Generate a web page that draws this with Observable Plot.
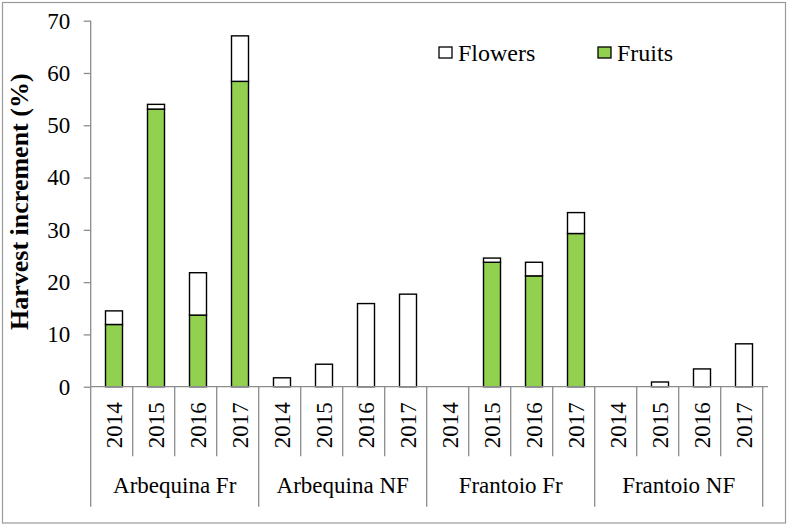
<!DOCTYPE html>
<html>
<head>
<meta charset="utf-8">
<script src="https://cdn.jsdelivr.net/npm/d3@7"></script>
<script src="https://cdn.jsdelivr.net/npm/@observablehq/plot@0.6"></script>
<style>
  html, body { margin: 0; padding: 0; background: #fff; }
  #chart svg { display: block; }
  #chart svg, #chart svg text { font-family: "Liberation Serif", Tinos, "Times New Roman", "DejaVu Serif", serif !important; }
</style>
</head>
<body>
<div id="chart"></div>
<script>
// ---- data ----
const groups = ["Arbequina Fr", "Arbequina NF", "Frantoio Fr", "Frantoio NF"];
const years = ["2014", "2015", "2016", "2017"];
const seriesNames = ["Fruits", "Flowers"];
// fruits segment (bottom) per group, per year
const fruitsArbequinaFr = [11.9, 53.1, 13.7, 58.4];
const fruitsArbequinaNF = [0, 0, 0, 0];
const fruitsFrantoioFr = [0, 23.8, 21.2, 29.3];
const fruitsFrantoioNF = [0, 0, 0, 0];
// flowers segment (stacked on top) per group, per year
const flowersArbequinaFr = [2.6, 0.9, 8.1, 8.7];
const flowersArbequinaNF = [1.7, 4.3, 15.9, 17.7];
const flowersFrantoioFr = [0, 0.8, 2.6, 4.0];
const flowersFrantoioNF = [0, 0.9, 3.4, 8.2];
const yTicks = [0, 10, 20, 30, 40, 50, 60, 70];
const yTitle = "Harvest increment (%)";

const fruits = [fruitsArbequinaFr, fruitsArbequinaNF, fruitsFrantoioFr, fruitsFrantoioNF];
const flowers = [flowersArbequinaFr, flowersArbequinaNF, flowersFrantoioFr, flowersFrantoioNF];

const keys = [];
groups.forEach(g => years.forEach(y => keys.push(g + "|" + y)));

const rows = [];
[["Fruits", fruits], ["Flowers", flowers]].forEach(([s, arr]) => {
  groups.forEach((g, gi) => years.forEach((y, yi) => {
    const v = arr[gi][yi];
    if (v > 0) rows.push({key: g + "|" + y, series: s, value: v});
  }));
});

const FONT = "Liberation Serif, Tinos, Times New Roman, DejaVu Serif, serif";
const AXIS = "#8c8c8c";

function decorations(index, scales, values, dimensions) {
  const x = scales.x, y = scales.y;
  const step = x(keys[1]) - x(keys[0]);
  const x0 = dimensions.marginLeft;
  const x1 = dimensions.width - dimensions.marginRight;
  const yb = y(0), yt = y(70);
  const g = d3.create("svg:g").attr("font-family", FONT);

  // outer border
  g.append("rect").attr("x", 2.5).attr("y", 2.5)
    .attr("width", dimensions.width - 4).attr("height", dimensions.height - 3.5)
    .attr("fill", "none").attr("stroke", "#9a9a9a").attr("stroke-width", 1.2);

  // y axis line and x axis line
  g.append("line").attr("x1", x0).attr("x2", x0).attr("y1", yt).attr("y2", yb)
    .attr("stroke", AXIS).attr("stroke-width", 1.3);
  g.append("line").attr("x1", x0).attr("x2", x1).attr("y1", yb).attr("y2", yb)
    .attr("stroke", AXIS).attr("stroke-width", 1.3);

  // category separators
  for (let k = 0; k <= keys.length; k++) {
    const xe = x0 + k * step;
    const isGroup = k % years.length === 0;
    g.append("line").attr("x1", xe).attr("x2", xe)
      .attr("y1", yb).attr("y2", yb + (isGroup ? 120 : 69.5))
      .attr("stroke", AXIS).attr("stroke-width", 1.3);
  }

  // year labels (rotated)
  keys.forEach(k => {
    const cx = x(k) + x.bandwidth() / 2;
    const yr = k.split("|")[1];
    g.append("text")
      .attr("transform", `translate(${cx},${yb + 38.5}) rotate(-90)`)
      .attr("text-anchor", "middle").attr("dy", "0.34em")
      .attr("font-size", 23).attr("fill", "#000").text(yr);
  });

  // group labels
  groups.forEach((gr, gi) => {
    const cx = x0 + (gi * years.length + years.length / 2) * step;
    g.append("text").attr("x", cx).attr("y", yb + 106.5)
      .attr("text-anchor", "middle").attr("font-size", 23).attr("fill", "#000").text(gr);
  });

  // y title
  g.append("text")
    .attr("transform", `translate(19,${(yt + yb) / 2 - 2}) rotate(-90)`)
    .attr("text-anchor", "middle").attr("dy", "0.35em")
    .attr("font-size", 26).attr("font-weight", "bold").attr("fill", "#000").text(yTitle);

  // legend
  const leg = [["Flowers", "#ffffff", 439], ["Fruits", "#92D050", 598]];
  leg.forEach(([name, col, lx]) => {
    g.append("rect").attr("x", lx).attr("y", 47).attr("width", 13).attr("height", 11)
      .attr("fill", col).attr("stroke", "#000").attr("stroke-width", 1.3);
    g.append("text").attr("x", lx + 19).attr("y", 61).attr("text-anchor", "start")
      .attr("font-size", 24).attr("fill", "#000").text(name);
  });
  return g.node();
}

const chart = Plot.plot({
  width: 787,
  height: 524,
  marginLeft: 90.7,
  marginRight: 19,
  marginTop: 20.7,
  marginBottom: 137.3,
  style: {fontFamily: FONT, color: "#000", background: "#fff", overflow: "visible"},
  x: {domain: keys, padding: 0, axis: null},
  y: {domain: [0, 70], axis: null},
  color: {domain: seriesNames, range: ["#92D050", "#ffffff"]},
  marks: [
    Plot.barY(rows, Plot.stackY({
      x: "key", y: "value", fill: "series", z: "series",
      stroke: "#000", strokeWidth: 1.4,
      insetLeft: 12.5, insetRight: 12.5
    })),
    Plot.axisY({
      ticks: yTicks, tickSize: 7, tickPadding: 14,
      stroke: AXIS, strokeWidth: 1.3, fontSize: 23, fill: "#000",
      label: null, tickFormat: d => String(d)
    }),
    decorations
  ]
});
document.getElementById("chart").appendChild(chart);
</script>
</body>
</html>
